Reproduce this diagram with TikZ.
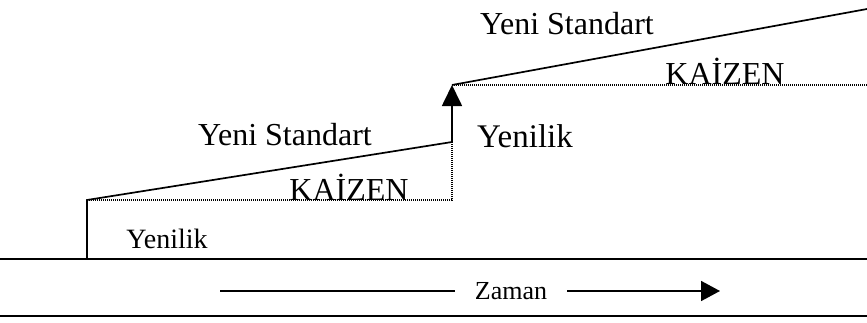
\documentclass[tikz,border=0pt]{standalone}
\usepackage{fontspec}
\setmainfont{Liberation Serif}
\usetikzlibrary{arrows.meta}
\tikzset{
	solidline/.style = {line width=1.7pt},
	dotline/.style = {line width=1.3pt, dash pattern=on 1pt off 1pt},
	label/.style = {anchor=base, inner sep=0pt, font=\fontsize{32}{36}\selectfont}
}

\begin{document}
\begin{tikzpicture}[x=1pt, y=1pt]
		\useasboundingbox (0,0) rectangle (867,322);
		\coordinate (b0) at (0,63);
		\coordinate (b1) at (867,63);
		\coordinate (c0) at (0,6);
		\coordinate (c1) at (867,6);
		\coordinate (a0) at (87,63);
		\coordinate (a1) at (87,122);
		\coordinate (a2) at (452,180);
		\coordinate (a3) at (452,237);
		\coordinate (a4) at (867,313);
		\coordinate (k1) at (452,122);
		\coordinate (k2) at (867,237);
		\draw[solidline] (b0) -- (b1);
		\draw[solidline] (c0) -- (c1);
		\draw[dotline] (a1) -- (k1) -- (a2);
		\draw[dotline] (a3) -- (k2);
		\draw[solidline] (a0) -- (a1) -- (a2);
		\draw[solidline, -{Triangle[length=21pt, width=20pt]}] (a2) -- (a3);
		\draw[solidline] (a3) -- (a4);
		\node[label] (ys1) at (285,177) {Yeni Standart};
		\node[label] (ys2) at (567,287) {Yeni Standart};
		\node[label] (kz1) at (349,122) {KAİZEN};
		\node[label] (kz2) at (725,237) {KAİZEN};
		\node[label, font=\fontsize{28}{32}\selectfont] (yn1) at (167,74) {Yenilik};
		\node[label, font=\fontsize{33}{36}\selectfont] (yn2) at (525,175) {Yenilik};
		\coordinate (zl) at (220,31);
		\coordinate (zr) at (720,31);
		\node[inner xsep=20pt, font=\fontsize{26}{30}\selectfont] (zaman) at (511,31) {Zaman};
		\draw[solidline] (zl) -- (zaman);
		\draw[solidline, -{Triangle[length=19pt, width=20pt]}] (zaman) -- (zr);
	\end{tikzpicture}
\end{document}
